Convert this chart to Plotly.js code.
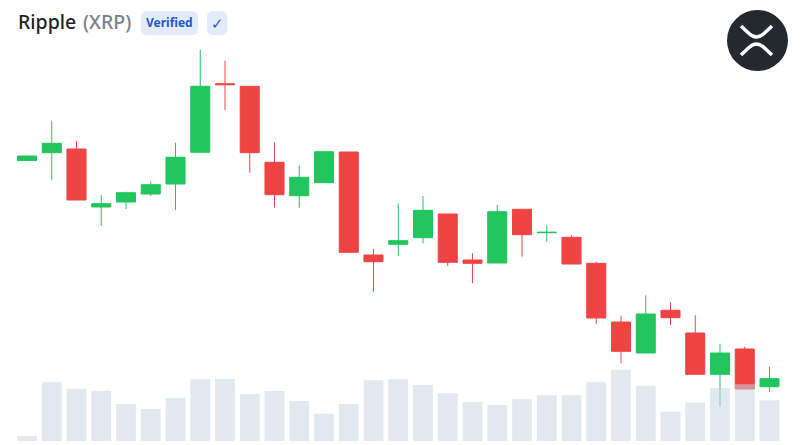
<!DOCTYPE html>
<html>
<head>
<meta charset="utf-8">
<script src="https://cdn.plot.ly/plotly-3.0.1.min.js"></script>
<style>html,body{margin:0;padding:0;background:#fff}#c{width:800px;height:445px}</style>
</head>
<body>
<div id="c"></div>
<script>
// Values (unitless price and volume scale)
const sessions = [0,1,2,3,4,5,6,7,8,9,10,11,12,13,14,15,16,17,18,19,20,21,22,23,24,25,26,27,28,29,30];
const opens  = [284.5,292.3,296,238,243,251,261,292.7,361.3,358.7,282.7,249.3,262.3,293,190,200.7,207.3,231,185,182,235.7,212.3,207.7,181.7,123,92,134.7,112,70.7,96,58.3];
const highs  = [289,324.3,304,250,253.3,263.5,302.3,395,384.3,358.7,302.7,279.3,293.3,293,196,241.7,249,231,191.7,240,235.7,219.7,209.7,183.3,129,149.7,142.7,129.7,101.3,98.3,78.3];
const lows   = [284.5,265,245,219,236,249,235,292.7,335,272.3,237.3,237.3,262.3,192.7,153.3,189,201.7,179,161.7,182,188.3,203.3,181,121,81.7,92,120,70.7,38.3,56,53];
const closes = [289,301.7,245,241.3,252.3,260.3,287.7,358.7,360.3,292.3,250.3,267.7,293.3,192.7,183.3,204.3,234.7,182.7,181.7,233.3,210.3,212.7,181,127,93.7,131,127.3,70.7,92,56,66.3];
const volumes = [5,59,52.3,50.3,37,32,43,61.7,62,46.7,50,40,27.3,37,60.7,61.7,56,47.7,39,36,41.7,45.7,45.7,59,71.3,55.3,29.3,38.3,52.7,56.7,40.7];
const tickerName = "Ripple";
const tickerCode = "(XRP)";
const badgeLabels = ["Verified", "✓"];

const W = 800, H = 445;
const fx = p => p / W, fy = p => 1 - p / H;
const pt = (x, y) => fx(x) + " " + fy(y);
function rrect(x0, y0, x1, y1, r) {
  return "M" + pt(x0 + r, y0) + " L" + pt(x1 - r, y0) + " Q" + pt(x1, y0) + " " + pt(x1, y0 + r) +
    " L" + pt(x1, y1 - r) + " Q" + pt(x1, y1) + " " + pt(x1 - r, y1) +
    " L" + pt(x0 + r, y1) + " Q" + pt(x0, y1) + " " + pt(x0, y1 - r) +
    " L" + pt(x0, y0 + r) + " Q" + pt(x0, y0) + " " + pt(x0 + r, y0) + " Z";
}
const paperShape = o => Object.assign({xref: "paper", yref: "paper", layer: "above"}, o);
const badge = "#e3ebfb";
const logoInk = {color: "#ffffff", width: 3.5};

const shapes = [
  paperShape({type: "path", path: rrect(141, 11, 198, 35, 6), fillcolor: badge, line: {width: 0}}),
  paperShape({type: "path", path: rrect(207, 11, 227, 35, 6), fillcolor: badge, line: {width: 0}}),
  paperShape({type: "circle", x0: fx(727), x1: fx(788), y0: fy(71), y1: fy(10), fillcolor: "#23292f", line: {width: 0}}),
  paperShape({type: "path", path: "M" + pt(741, 26) + " L" + pt(749, 33.5) + " Q" + pt(756.5, 40.5) + " " + pt(764, 33.5) + " L" + pt(772, 26), line: logoInk}),
  paperShape({type: "path", path: "M" + pt(741, 55) + " L" + pt(749, 47.5) + " Q" + pt(756.5, 40.5) + " " + pt(764, 47.5) + " L" + pt(772, 55), line: logoInk})
];

const note = (text, x, y, size, color, weight, anchor) => ({
  text, x: fx(x), y: fy(y), xref: "paper", yref: "paper", xanchor: anchor || "left", yanchor: "middle",
  showarrow: false, borderpad: 0, font: {family: '"Noto Sans", sans-serif', size, color, weight}
});

const traces = [
  {
    type: "candlestick", x: sessions, open: opens, high: highs, low: lows, close: closes,
    increasing: {line: {color: "#22c55e", width: 1}, fillcolor: "#22c55e"},
    decreasing: {line: {color: "#ef4444", width: 1}, fillcolor: "#ef4444"},
    whiskerwidth: 0, hoverinfo: "none", showlegend: false, xaxis: "x", yaxis: "y"
  },
  {
    type: "bar", x: sessions, y: volumes, marker: {color: "rgba(203,213,225,0.55)", line: {width: 0}},
    hoverinfo: "none", showlegend: false, xaxis: "x", yaxis: "y2"
  }
];

const layout = {
  width: W, height: H, margin: {l: 0, r: 0, t: 0, b: 0},
  paper_bgcolor: "#ffffff", plot_bgcolor: "#ffffff", showlegend: false,
  boxgap: 0.23, boxgroupgap: 0, bargap: 0.2,
  xaxis: {range: [-27 / 24.75, (W - 27) / 24.75], visible: false, rangeslider: {visible: false}, fixedrange: true},
  yaxis: {range: [0, H], visible: false, fixedrange: true},
  yaxis2: {range: [-4, H - 4], visible: false, overlaying: "y", fixedrange: true},
  shapes,
  annotations: [
    note(tickerName, 17, 21.5, 19.5, "#1f2328", 500),
    note(tickerCode, 82, 21.5, 19.5, "#7a8088", 500),
    note(badgeLabels[0], 169.5, 23, 12, "#2a56c6", 700, "center"),
    note(badgeLabels[1], 217, 22.5, 15, "#2a56c6", 400, "center")
  ]
};
Plotly.newPlot("c", traces, layout, {displayModeBar: false, staticPlot: true});
</script>
</body>
</html>
